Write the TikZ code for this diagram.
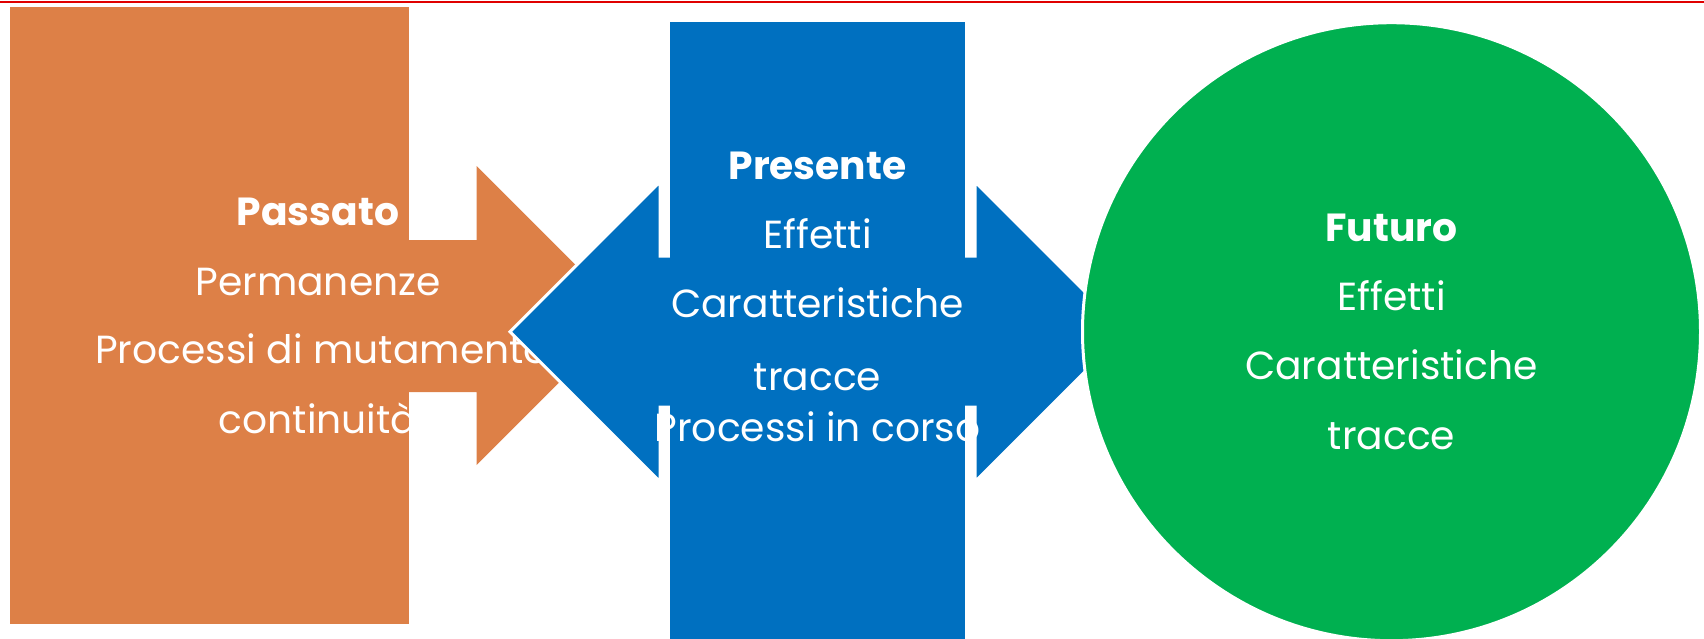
\documentclass[tikz,border=0pt]{standalone}
\usepackage{fontspec}
\setmainfont{Poppins}
\definecolor{pastorange}{HTML}{DD8047}
\definecolor{nowblue}{HTML}{0070C0}
\definecolor{nextgreen}{HTML}{00B050}
\definecolor{rulered}{HTML}{E00000}
\tikzset{
  lbl/.style={text=white, anchor=base, inner sep=0pt, font=\fontsize{19.6}{24}\selectfont},
  ttl/.style={lbl, font=\fontsize{19.6}{24}\selectfont\bfseries},
  outlinewhite/.style={draw=white, line width=1.5pt, line join=miter}
}
\begin{document}
\begin{tikzpicture}[x=0.5pt,y=-0.5pt]
\useasboundingbox (0,0) rectangle (1704,638);
% top rule
\draw[rulered, line width=1.2pt] (0,2) -- (1704,2);

% past: arrow behind the block
\fill[pastorange] (300,240) -- (476.7,240) -- (476.7,166) -- (626,315.5)
  -- (476.7,465) -- (476.7,392) -- (300,392) -- cycle;
\fill[pastorange] (10,7) rectangle (409,624);
\node[ttl] (pa0) at (318,225) {Passato};
\node[lbl] (pa1) at (318,295) {Permanenze};
\node[lbl] (pa2) at (322,363) {Processi di mutamento};
\node[lbl] (pa3) at (318,433) {continuità};

% present: double arrow behind the block
\filldraw[nowblue, outlinewhite] (510,331.7) -- (660,181.7) -- (660,256) -- (975,256)
  -- (975,181.7) -- (1125,331.7) -- (975,481.7) -- (975,407) -- (660,407)
  -- (660,481.7) -- cycle;
\fill[nowblue] (670,22) rectangle (965,640);
\node[ttl] (pr0) at (817.5,179.6) {Presente};
\node[lbl] (pr1) at (817.5,248) {Effetti};
\node[lbl] (pr2) at (817.5,317.5) {Caratteristiche};
\node[lbl] (pr3) at (817.5,390) {tracce};
\node[lbl] (pr4) at (817.5,441.5) {Processi in corso};

% future
\filldraw[nextgreen, outlinewhite] (1391.5,331.7) circle (309);
\node[ttl] (fu0) at (1391.5,241) {Futuro};
\node[lbl] (fu1) at (1391.5,310) {Effetti};
\node[lbl] (fu2) at (1391.5,379) {Caratteristiche};
\node[lbl] (fu3) at (1391.5,449) {tracce};
\end{tikzpicture}
\end{document}
